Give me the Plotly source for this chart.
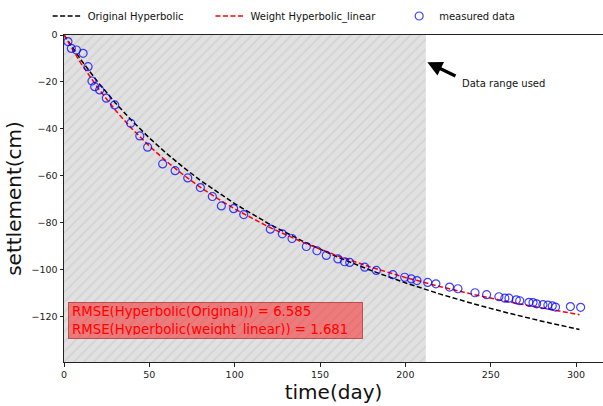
import plotly.graph_objects as go

# ---- data ----
measured_time = [2.3, 4.3, 7.3, 11.2, 14.1, 16.4, 18.0, 20.9, 24.8, 29.7, 39.1, 44.4, 49.0,
                 57.8, 65.1, 72.5, 79.9, 86.9, 92.2, 99.4, 105.3, 120.9, 127.9, 133.6, 142.0,
                 148.2, 153.7, 160.5, 164.4, 167.4, 176.2, 183.0, 192.7, 199.6, 203.5, 206.8,
                 213.1, 217.9, 225.9, 230.8, 240.8, 247.6, 254.8, 258.3, 260.7, 265.0, 267.0,
                 272.4, 274.8, 276.9, 280.6, 283.5, 286.1, 288.0, 296.7, 302.7]
measured_settlement = [-2.8, -5.7, -6.4, -7.8, -13.5, -19.6, -22.0, -23.4, -26.9, -29.8, -37.6,
                       -43.0, -47.8, -54.9, -57.8, -60.9, -65.0, -68.8, -72.8, -74.0, -76.5,
                       -82.7, -84.7, -86.7, -90.1, -91.9, -93.9, -95.4, -96.6, -96.9, -98.9,
                       -100.3, -102.1, -103.2, -103.9, -104.6, -105.4, -106.0, -107.4, -108.1,
                       -109.8, -110.6, -111.5, -112.1, -112.1, -112.8, -113.2, -113.9, -114.0,
                       -114.5, -114.9, -115.1, -115.4, -115.9, -115.7, -116.0]

curve_time = [0, 10, 20, 30, 40, 50, 60, 70, 80, 90, 100, 120, 140, 160, 180, 200, 220,
              240, 260, 280, 302]
original_hyperbolic = [0, -10.65, -20.21, -28.85, -36.69, -43.84, -50.39, -56.41, -61.96,
                       -67.09, -71.85, -80.42, -87.90, -94.49, -100.34, -105.57, -110.28,
                       -114.53, -118.40, -121.92, -125.46]
weight_hyperbolic_linear = [0, -12.17, -22.72, -31.95, -40.09, -47.33, -53.81, -59.64, -64.91,
                            -69.71, -74.09, -81.80, -88.36, -94.02, -98.95, -103.28, -107.12,
                            -110.54, -113.62, -116.39, -119.14]

used_range_end = 212.0
x_range = [0, 315.8]
y_range = [-139.3, 0]

series_names = ["Original Hyperbolic", "Weight Hyperbolic_linear", "measured data"]
rmse_text = ["RMSE(Hyperbolic(Original)) = 6.585",
             "RMSE(Hyperbolic(weight_linear)) = 1.681"]

FONT = "DejaVu Sans"

fig = go.Figure()

# hatched "data range used" span
fig.add_trace(go.Scatter(
    x=[x_range[0], used_range_end, used_range_end, x_range[0], x_range[0]],
    y=[y_range[0], y_range[0], y_range[1], y_range[1], y_range[0]],
    fill="toself", mode="lines", line=dict(width=0),
    fillcolor="#e1e1e1",
    fillpattern=dict(shape="/", bgcolor="#e1e1e1", fgcolor="#c6c6c6", size=7, solidity=0.25),
    showlegend=False, hoverinfo="skip"))

fig.add_trace(go.Scatter(
    x=curve_time, y=original_hyperbolic, mode="lines", name=series_names[0],
    line=dict(color="black", dash="5px,2.5px", width=1.5), legend="legend"))
fig.add_trace(go.Scatter(
    x=curve_time, y=weight_hyperbolic_linear, mode="lines", name=series_names[1],
    line=dict(color="red", dash="5px,2.5px", width=1.5), legend="legend2"))
fig.add_trace(go.Scatter(
    x=measured_time, y=measured_settlement, mode="markers", name=series_names[2],
    marker=dict(symbol="circle-open", size=8, color="rgba(0,0,255,0.75)",
                line=dict(width=1.2, color="rgba(0,0,255,0.75)")),
    legend="legend3"))

legend_common = dict(orientation="h", xref="container", yref="container",
                     yanchor="middle", y=0.9606, xanchor="left",
                     bgcolor="rgba(0,0,0,0)", font=dict(size=10, family=FONT, color="#111"))

fig.update_layout(
    width=603, height=406,
    margin=dict(l=64, r=0, t=35, b=44),
    paper_bgcolor="white", plot_bgcolor="white",
    font=dict(family=FONT, color="#111"),
    legend=dict(x=0.079, **legend_common),
    legend2=dict(x=0.349, **legend_common),
    legend3=dict(x=0.662, **legend_common),
    xaxis=dict(range=x_range, showgrid=False, zeroline=False, automargin=False,
               showline=True, linecolor="#222", linewidth=1, mirror=True,
               ticks="outside", ticklen=3.5, tickcolor="#222",
               tickvals=[0, 50, 100, 150, 200, 250, 300],
               tickfont=dict(size=9.5, family=FONT, color="#222"),
               title=dict(text="time(day)", font=dict(size=20, family=FONT, color="#111"),
                          standoff=2)),
    yaxis=dict(range=y_range, showgrid=False, zeroline=False, automargin=False,
               showline=True, linecolor="#222", linewidth=1,
               ticks="outside", ticklen=3.5, tickcolor="#222",
               tickvals=[0, -20, -40, -60, -80, -100, -120],
               tickfont=dict(size=9.5, family=FONT, color="#222"),
               title=dict(text="settlement(cm)", font=dict(size=20, family=FONT, color="#111"),
                          standoff=4)),
)

# RMSE box
fig.add_annotation(
    x=2.3, y=-113.6, xref="x", yref="y", xanchor="left", yanchor="top",
    text="<br>".join(rmse_text), align="left", showarrow=False,
    font=dict(size=13.3, family=FONT, color="red"),
    bgcolor="rgba(255,0,0,0.45)", bordercolor="rgba(170,40,40,0.7)", borderwidth=1,
    borderpad=3, width=287, height=29, valign="middle")

# arrow pointing at the end of the used data range
fig.add_annotation(
    x=212.9, y=-11.6, xref="x", yref="y", text="", showarrow=True,
    ax=29.6, ay=14.4, arrowhead=2, arrowsize=0.9, arrowwidth=3.3,
    arrowcolor="black", standoff=0)
fig.add_annotation(
    x=231.8, y=-20.55, xref="x", yref="y", text="Data range used", showarrow=False,
    xanchor="left", yanchor="middle", font=dict(size=10, family=FONT, color="#111"))

fig.write_html("out.html", config={"displayModeBar": False},
               post_script="document.body.style.margin='0';document.body.style.overflow='hidden';")
